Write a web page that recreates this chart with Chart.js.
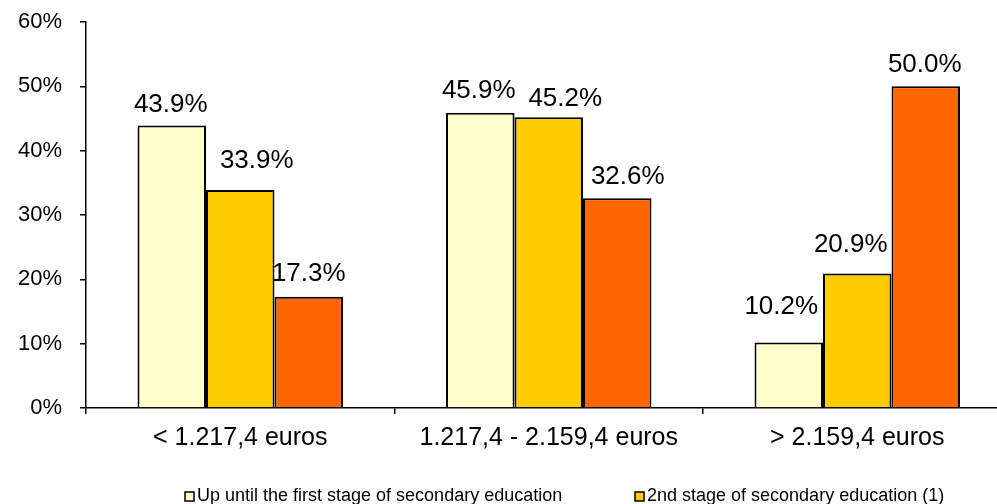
<!DOCTYPE html>
<html>
<head>
<meta charset="utf-8">
<script src="https://cdn.jsdelivr.net/npm/chart.js@4"></script>
<style>
  html, body { margin: 0; padding: 0; background: #fff; overflow: hidden; }
  #wrap { width: 1030px; height: 504px; }
</style>
</head>
<body>
<div id="wrap"><canvas id="barChart" width="1030" height="504"></canvas></div>
<script>
// income brackets and shares by education level
var categories = ['< 1.217,4 euros', '1.217,4 - 2.159,4 euros', '> 2.159,4 euros'];
var seriesNames = ['Up until the first stage of secondary education', '2nd stage of secondary education (1)', 'Higher education'];
var lowerSecondary = [43.9, 45.9, 10.2];
var upperSecondary = [33.9, 45.2, 20.9];
var higherEducation = [17.3, 32.6, 50.0];
var yTicks = [0, 10, 20, 30, 40, 50, 60];

var colors = ['#FFFFCC', '#FFCC00', '#FF6600'];
var font = '"Liberation Sans", Arial, sans-serif';

// value labels above each bar (labels were hand-moved a little in the original)
var labelNudge = [
    [[-1, 0], [-1.5, -0.5], [-7.5, -14]],
    [[16.5, -8], [16.5, 3], [-6.5, -8]],
    [[0, -1.5], [10.5, 0], [-1, 0]]
];
var valueLabels = {
    id: 'valueLabels',
    afterDatasetsDraw: function (chart) {
        var ctx = chart.ctx;
        ctx.save();
        ctx.font = '26px ' + font;
        ctx.fillStyle = '#000';
        ctx.textAlign = 'center';
        ctx.textBaseline = 'alphabetic';
        chart.data.datasets.forEach(function (ds, i) {
            chart.getDatasetMeta(i).data.forEach(function (bar, j) {
                var n = labelNudge[i][j];
                ctx.fillText(ds.data[j].toFixed(1) + '%', bar.x + n[0], bar.y - 14 + n[1]);
            });
        });
        ctx.restore();
    }
};

// bottom legend, two items on the first row, the third wraps below the picture
var bottomLegend = {
    id: 'bottomLegend',
    afterDraw: function (chart) {
        var ctx = chart.ctx;
        var itemX = [185, 635, 185];
        var itemY = [501, 501, 526];
        ctx.save();
        ctx.font = '18px ' + font;
        ctx.textBaseline = 'alphabetic';
        chart.data.datasets.forEach(function (ds, i) {
            var x = itemX[i], y = itemY[i];
            ctx.fillStyle = ds.backgroundColor;
            ctx.fillRect(x, y - 9, 9, 9);
            ctx.strokeStyle = '#000';
            ctx.lineWidth = 1.5;
            ctx.strokeRect(x, y - 9, 9, 9);
            ctx.fillStyle = '#000';
            ctx.textAlign = 'left';
            ctx.fillText(ds.label, x + 12, y);
        });
        ctx.restore();
    }
};

document.addEventListener('DOMContentLoaded', function () {
    var ctx = document.getElementById('barChart').getContext('2d');
    var seriesData = [lowerSecondary, upperSecondary, higherEducation];
    var myChart = new Chart(ctx, {
        type: 'bar',
        data: {
            labels: categories,
            datasets: seriesData.map(function (d, i) {
                return {
                    label: seriesNames[i],
                    data: d,
                    backgroundColor: colors[i],
                    borderColor: '#000',
                    borderWidth: 2,
                    categoryPercentage: 0.666,
                    barPercentage: 1.0
                };
            })
        },
        options: {
            responsive: false,
            animation: false,
            layout: { padding: { left: 0, right: 18.5, top: 22, bottom: 0 } },
            plugins: {
                legend: { display: false },
                tooltip: { enabled: false }
            },
            scales: {
                x: {
                    afterFit: function (s) { s.height = 96; },
                    grid: { offset: true, drawOnChartArea: false, drawTicks: true, tickLength: 6, color: '#000', lineWidth: 1.5 },
                    border: { color: '#000', width: 1.5 },
                    ticks: { color: '#000', font: { family: font, size: 25 }, padding: 9, maxRotation: 0 }
                },
                y: {
                    min: 0,
                    max: 60,
                    afterFit: function (s) { s.width = 86; s.paddingTop = 10; s.paddingBottom = 10; },
                    afterBuildTicks: function (s) { s.ticks = yTicks.map(function (v) { return { value: v }; }); },
                    grid: { drawOnChartArea: false, drawTicks: true, tickLength: 6, color: '#000', lineWidth: 1.5 },
                    border: { color: '#000', width: 1.5 },
                    ticks: {
                        color: '#000',
                        font: { family: font, size: 22 },
                        padding: 18,
                        callback: function (v) { return v + '%'; }
                    }
                }
            }
        },
        plugins: [valueLabels, bottomLegend]
    });
});
</script>
</body>
</html>
